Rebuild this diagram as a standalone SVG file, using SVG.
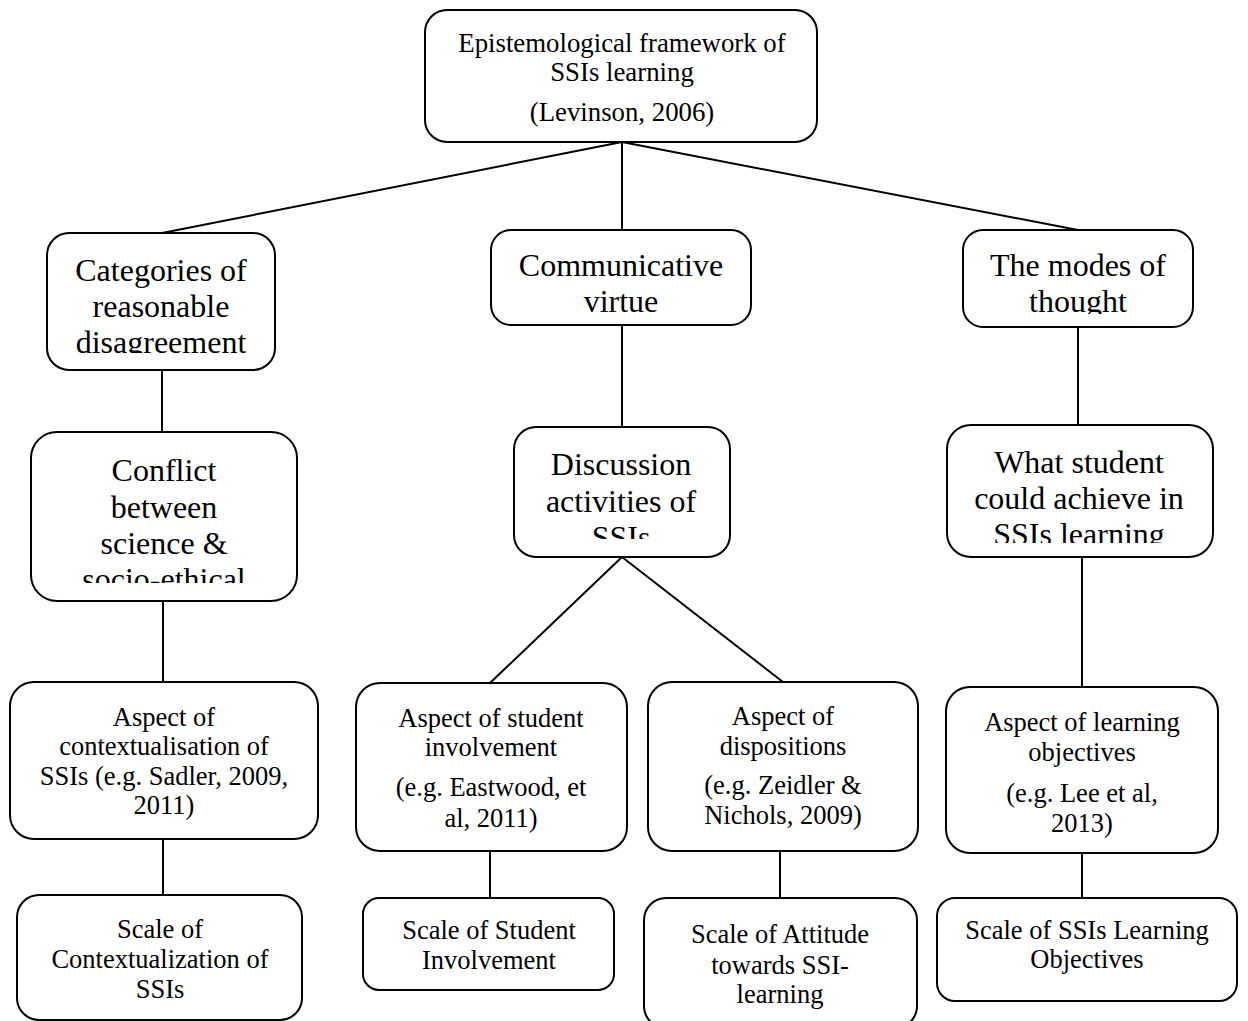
<svg xmlns="http://www.w3.org/2000/svg" width="1248" height="1021" viewBox="0 0 1248 1021">
<style>
rect.n{fill:#fff;stroke:#000;stroke-width:2}
text{font-family:"Liberation Serif","Times New Roman",serif;fill:#000;text-anchor:middle}
.s{font-size:26.5px}
.m{font-size:26.8px}
.l{font-size:32px}
#connectors line{stroke:#000;stroke-width:2}
</style>
<defs>
<clipPath id="c1"><rect x="47" y="233" width="228" height="120"/></clipPath>
<clipPath id="c2"><rect x="963" y="230" width="230" height="84"/></clipPath>
<clipPath id="c3"><rect x="31" y="432" width="266" height="151"/></clipPath>
<clipPath id="c4"><rect x="514" y="427" width="216" height="112"/></clipPath>
<clipPath id="c5"><rect x="947" y="425" width="266" height="118"/></clipPath>
</defs>
<g id="connectors">
<line x1="622" y1="142" x2="162" y2="233"/>
<line x1="622" y1="142" x2="622" y2="230"/>
<line x1="622" y1="142" x2="1078" y2="230"/>
<line x1="162" y1="370" x2="162" y2="432"/>
<line x1="163" y1="601" x2="163" y2="682"/>
<line x1="163" y1="839" x2="163" y2="895"/>
<line x1="622" y1="325" x2="622" y2="427"/>
<line x1="622" y1="557" x2="490" y2="683"/>
<line x1="622" y1="557" x2="783" y2="682"/>
<line x1="490" y1="851" x2="490" y2="898"/>
<line x1="780" y1="851" x2="780" y2="898"/>
<line x1="1078" y1="327" x2="1078" y2="425"/>
<line x1="1082" y1="557" x2="1082" y2="687"/>
<line x1="1082" y1="853" x2="1082" y2="898"/>
</g>
<g id="n-top">
<rect class="n" x="425" y="10" width="392" height="132" rx="22"/>
<text class="m" x="622" y="52">Epistemological framework of</text>
<text class="m" x="622" y="81">SSIs learning</text>
<text class="m" x="622" y="121">(Levinson, 2006)</text>
</g>
<g id="n-categories">
<rect class="n" x="47" y="233" width="228" height="137" rx="22"/>
<g clip-path="url(#c1)">
<text class="l" x="161" y="281">Categories of</text>
<text class="l" x="161" y="317">reasonable</text>
<text class="l" x="161" y="353">disagreement</text>
</g>
</g>
<g id="n-communicative">
<rect class="n" x="491" y="230" width="260" height="95" rx="20"/>
<text class="l" x="621" y="276">Communicative</text>
<text class="l" x="621" y="312">virtue</text>
</g>
<g id="n-modes">
<rect class="n" x="963" y="230" width="230" height="97" rx="20"/>
<g clip-path="url(#c2)">
<text class="l" x="1078" y="276">The modes of</text>
<text class="l" x="1078" y="312">thought</text>
</g>
</g>
<g id="n-conflict">
<rect class="n" x="31" y="432" width="266" height="169" rx="26"/>
<g clip-path="url(#c3)">
<text class="l" x="164" y="481">Conflict</text>
<text class="l" x="164" y="518">between</text>
<text class="l" x="164" y="554">science &amp;</text>
<text class="l" x="164" y="590">socio-ethical</text>
</g>
</g>
<g id="n-discussion">
<rect class="n" x="514" y="427" width="216" height="130" rx="22"/>
<g clip-path="url(#c4)">
<text class="l" x="621" y="475">Discussion</text>
<text class="l" x="621" y="512">activities of</text>
<text class="l" x="621" y="548">SSIs</text>
</g>
</g>
<g id="n-whatstudent">
<rect class="n" x="947" y="425" width="266" height="132" rx="24"/>
<g clip-path="url(#c5)">
<text class="l" x="1079" y="473">What student</text>
<text class="l" x="1079" y="509">could achieve in</text>
<text class="l" x="1079" y="545">SSIs learning</text>
</g>
</g>
<g id="n-aspect-context">
<rect class="n" x="10" y="682" width="308" height="157" rx="24"/>
<text class="s" x="164" y="726">Aspect of</text>
<text class="s" x="164" y="755">contextualisation of</text>
<text class="s" x="164" y="785">SSIs (e.g. Sadler, 2009,</text>
<text class="s" x="164" y="814">2011)</text>
</g>
<g id="n-aspect-involvement">
<rect class="n" x="356" y="683" width="271" height="168" rx="24"/>
<text class="s" x="491" y="727">Aspect of student</text>
<text class="s" x="491" y="756">involvement</text>
<text class="s" x="491" y="796">(e.g. Eastwood, et</text>
<text class="s" x="491" y="827">al, 2011)</text>
</g>
<g id="n-aspect-dispositions">
<rect class="n" x="648" y="682" width="270" height="169" rx="24"/>
<text class="s" x="783" y="725">Aspect of</text>
<text class="s" x="783" y="755">dispositions</text>
<text class="s" x="783" y="794">(e.g. Zeidler &amp;</text>
<text class="s" x="783" y="824">Nichols, 2009)</text>
</g>
<g id="n-aspect-objectives">
<rect class="n" x="946" y="687" width="272" height="166" rx="24"/>
<text class="s" x="1082" y="731">Aspect of learning</text>
<text class="s" x="1082" y="761">objectives</text>
<text class="s" x="1082" y="802">(e.g. Lee et al,</text>
<text class="s" x="1082" y="832">2013)</text>
</g>
<g id="n-scale-context">
<rect class="n" x="17" y="895" width="285" height="125" rx="22"/>
<text class="s" x="160" y="938">Scale of</text>
<text class="s" x="160" y="968">Contextualization of</text>
<text class="s" x="160" y="998">SSIs</text>
</g>
<g id="n-scale-involvement">
<rect class="n" x="363" y="898" width="251" height="92" rx="16"/>
<text class="s" x="489" y="939">Scale of Student</text>
<text class="s" x="489" y="969">Involvement</text>
</g>
<g id="n-scale-attitude">
<rect class="n" x="644" y="898" width="273" height="130" rx="22"/>
<text class="s" x="780" y="943">Scale of Attitude</text>
<text class="s" x="780" y="974">towards SSI-</text>
<text class="s" x="780" y="1003">learning</text>
</g>
<g id="n-scale-objectives">
<rect class="n" x="937" y="898" width="300" height="103" rx="18"/>
<text class="s" x="1087" y="939">Scale of SSIs Learning</text>
<text class="s" x="1087" y="968">Objectives</text>
</g>
</svg>
